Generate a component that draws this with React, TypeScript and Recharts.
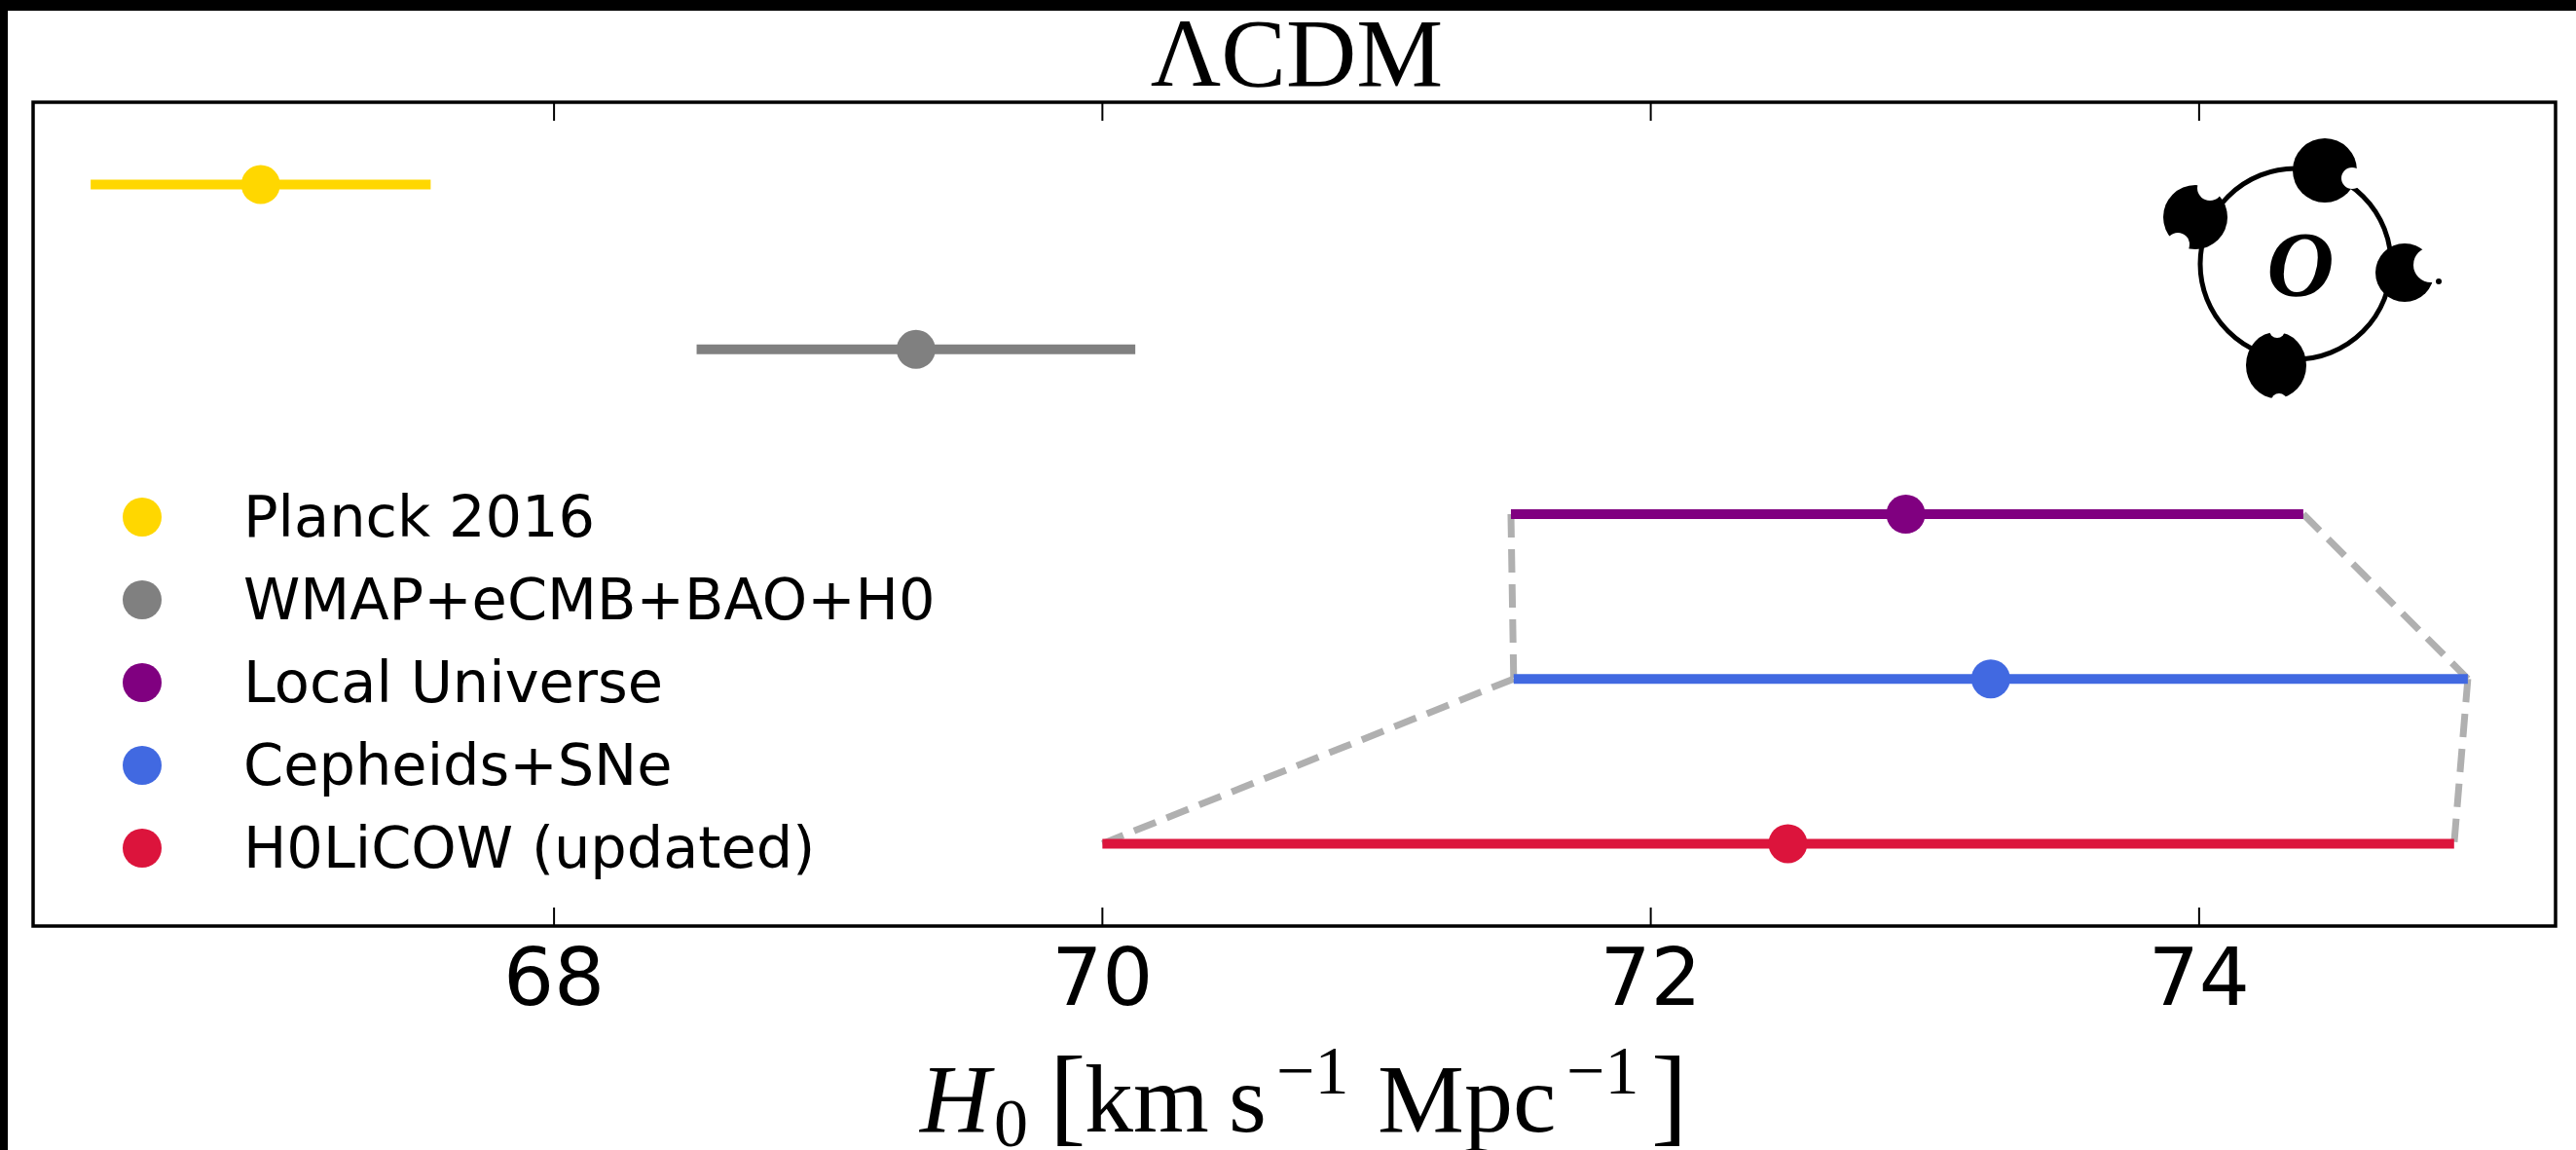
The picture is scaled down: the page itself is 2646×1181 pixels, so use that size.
import React from 'react';
import {
  ScatterChart,
  Scatter,
  XAxis,
  YAxis,
  ErrorBar,
  ReferenceLine,
  ReferenceArea,
  Legend,
  Customized,
} from 'recharts';

// H0 measurements, one row each (top to bottom)
const SERIES = ['Planck 2016', 'WMAP+eCMB+BAO+H0', 'Local Universe', 'Cepheids+SNe', 'H0LiCOW (updated)'];
const H0 = [66.93, 69.32, 72.93, 73.24, 72.5];
const ERR_MINUS = [0.62, 0.8, 1.44, 1.74, 2.5];
const ERR_PLUS = [0.62, 0.8, 1.45, 1.74, 2.43];
const ROW = [5, 4, 3, 2, 1];
const COLORS = ['#FFD700', '#808080', '#800080', '#4169E1', '#DC143C'];

const X_DOMAIN: [number, number] = [66.1, 75.3];
const Y_DOMAIN: [number, number] = [0.5, 5.5];
const X_TICKS = [68, 70, 72, 74];

// dashed guides linking error-bar ends: [from series, from end, to series, to end]
const LINKS: [number, 'lo' | 'hi', number, 'lo' | 'hi'][] = [
  [2, 'lo', 3, 'lo'],
  [2, 'hi', 3, 'hi'],
  [3, 'lo', 4, 'lo'],
  [3, 'hi', 4, 'hi'],
];

const W = 2638;
const H = 1170;
const MARGIN = { top: 94, right: 21, left: 26, bottom: 30 };
const AXIS_H = 200;
const PLOT_H = H - MARGIN.top - MARGIN.bottom - AXIS_H;

const SANS = 'DejaVu Sans, sans-serif';
const SERIF = 'Liberation Serif, serif';

const seriesData = SERIES.map((name, i) => [
  { x: H0[i], y: ROW[i], err: [ERR_MINUS[i], ERR_PLUS[i]] },
]);

const endOf = (i: number, end: 'lo' | 'hi') => ({
  x: end === 'lo' ? H0[i] - ERR_MINUS[i] : H0[i] + ERR_PLUS[i],
  y: ROW[i],
});

const Dot = (props: any) => <circle cx={props.cx} cy={props.cy} r={20} fill={props.fill} />;

// bottom tick: label plus inward marks on both bottom and top spines
const Tick = (props: any) => {
  const { x, y, payload } = props;
  return (
    <g>
      <line x1={x} x2={x} y1={y} y2={y - 19} stroke="#000" strokeWidth={2} />
      <line x1={x} x2={x} y1={y - PLOT_H} y2={y - PLOT_H + 19} stroke="#000" strokeWidth={2} />
      <text x={x} y={y + 81} textAnchor="middle" fontFamily={SANS} fontSize={82} fill="#000">
        {payload.value}
      </text>
    </g>
  );
};

const renderLegend = () => (
  <div style={{ fontFamily: SANS, fontSize: 59, color: '#000' }}>
    {SERIES.map((name, i) => (
      <div key={name} style={{ display: 'flex', alignItems: 'center', height: 85 }}>
        <span
          style={{ width: 40, height: 40, borderRadius: '50%', background: COLORS[i], marginRight: 84, flex: 'none' }}
        />
        <span style={{ whiteSpace: 'nowrap' }}>{name}</span>
      </div>
    ))}
  </div>
);

const Decorations = () => (
  <g>
    <text x={1324} y={77} textAnchor="middle" fontFamily={SERIF} fontSize={100} fill="#000">
      ΛCDM
    </text>
    <text y={1151} fontFamily={SERIF} fontSize={100} fill="#000">
      <tspan x={937} fontStyle="italic">H</tspan>
      <tspan x={1013} y={1166} fontSize={70}>0</tspan>
      <tspan x={1070} y={1151} fontSize={112}>[</tspan>
      <tspan x={1106} fontSize={100}>km</tspan>
      <tspan x={1254}>s</tspan>
      <tspan x={1303} y={1112} fontSize={70}>−1</tspan>
      <tspan x={1407} y={1151}>Mpc</tspan>
      <tspan x={1601} y={1112} fontSize={70}>−1</tspan>
      <tspan x={1688} y={1151} fontSize={112}>]</tspan>
    </text>
    <g>
      <circle cx={2350} cy={260} r={98} fill="none" stroke="#000" strokeWidth={5} />
      <circle cx={2380} cy={164} r={33} fill="#000" />
      <circle cx={2408} cy={172} r={11} fill="#fff" />
      <circle cx={2247} cy={212} r={33} fill="#000" />
      <circle cx={2262} cy={182} r={13} fill="#fff" />
      <circle cx={2229} cy={240} r={12} fill="#fff" />
      <circle cx={2462} cy={269} r={30} fill="#000" />
      <circle cx={2489} cy={261} r={18} fill="#fff" />
      <circle cx={2497} cy={278} r={3} fill="#000" />
      <ellipse cx={2330} cy={364} rx={31} ry={34} fill="#000" />
      <circle cx={2331} cy={328} r={8} fill="#fff" />
      <circle cx={2333} cy={401} r={8} fill="#fff" />
      <text
        x={2355}
        y={293}
        textAnchor="middle"
        fontFamily={SERIF}
        fontStyle="italic"
        fontWeight="bold"
        fontSize={96}
        fill="#000"
      >
        O
      </text>
    </g>
  </g>
);

export default function App() {
  return (
    <div style={{ position: 'absolute', left: 0, top: 0, width: 2646, height: 1181, background: '#000' }}>
      <div style={{ position: 'absolute', left: 8, top: 11, width: W, height: H, background: '#fff' }}>
        <ScatterChart width={W} height={H} margin={MARGIN}>
          <XAxis
            type="number"
            dataKey="x"
            domain={X_DOMAIN}
            ticks={X_TICKS}
            allowDataOverflow
            axisLine={false}
            tickLine={false}
            tickSize={0}
            tickMargin={0}
            height={AXIS_H}
            tick={<Tick />}
          />
          <YAxis type="number" dataKey="y" domain={Y_DOMAIN} allowDataOverflow hide width={0} />
          <ReferenceArea
            x1={X_DOMAIN[0]}
            x2={X_DOMAIN[1]}
            y1={Y_DOMAIN[0]}
            y2={Y_DOMAIN[1]}
            fill="none"
            stroke="#000"
            strokeWidth={3.5}
            ifOverflow="visible"
          />
          {LINKS.map(([a, ea, b, eb], k) => (
            <ReferenceLine
              key={k}
              segment={[endOf(a, ea), endOf(b, eb)]}
              stroke="#b0b0b0"
              strokeWidth={7}
              strokeDasharray="24 12"
              ifOverflow="visible"
            />
          ))}
          {SERIES.map((name, i) => (
            <Scatter
              key={name}
              name={name}
              data={seriesData[i]}
              fill={COLORS[i]}
              shape={<Dot />}
              isAnimationActive={false}
            >
              <ErrorBar
                dataKey="err"
                direction="x"
                width={0}
                stroke={COLORS[i]}
                strokeWidth={10}
                isAnimationActive={false}
              />
            </Scatter>
          ))}
          <Legend
            layout="vertical"
            align="center"
            verticalAlign="middle"
            content={renderLegend}
            wrapperStyle={{ left: 118, top: 477, width: 900, height: 425 }}
          />
          <Customized component={<Decorations />} />
        </ScatterChart>
      </div>
    </div>
  );
}
